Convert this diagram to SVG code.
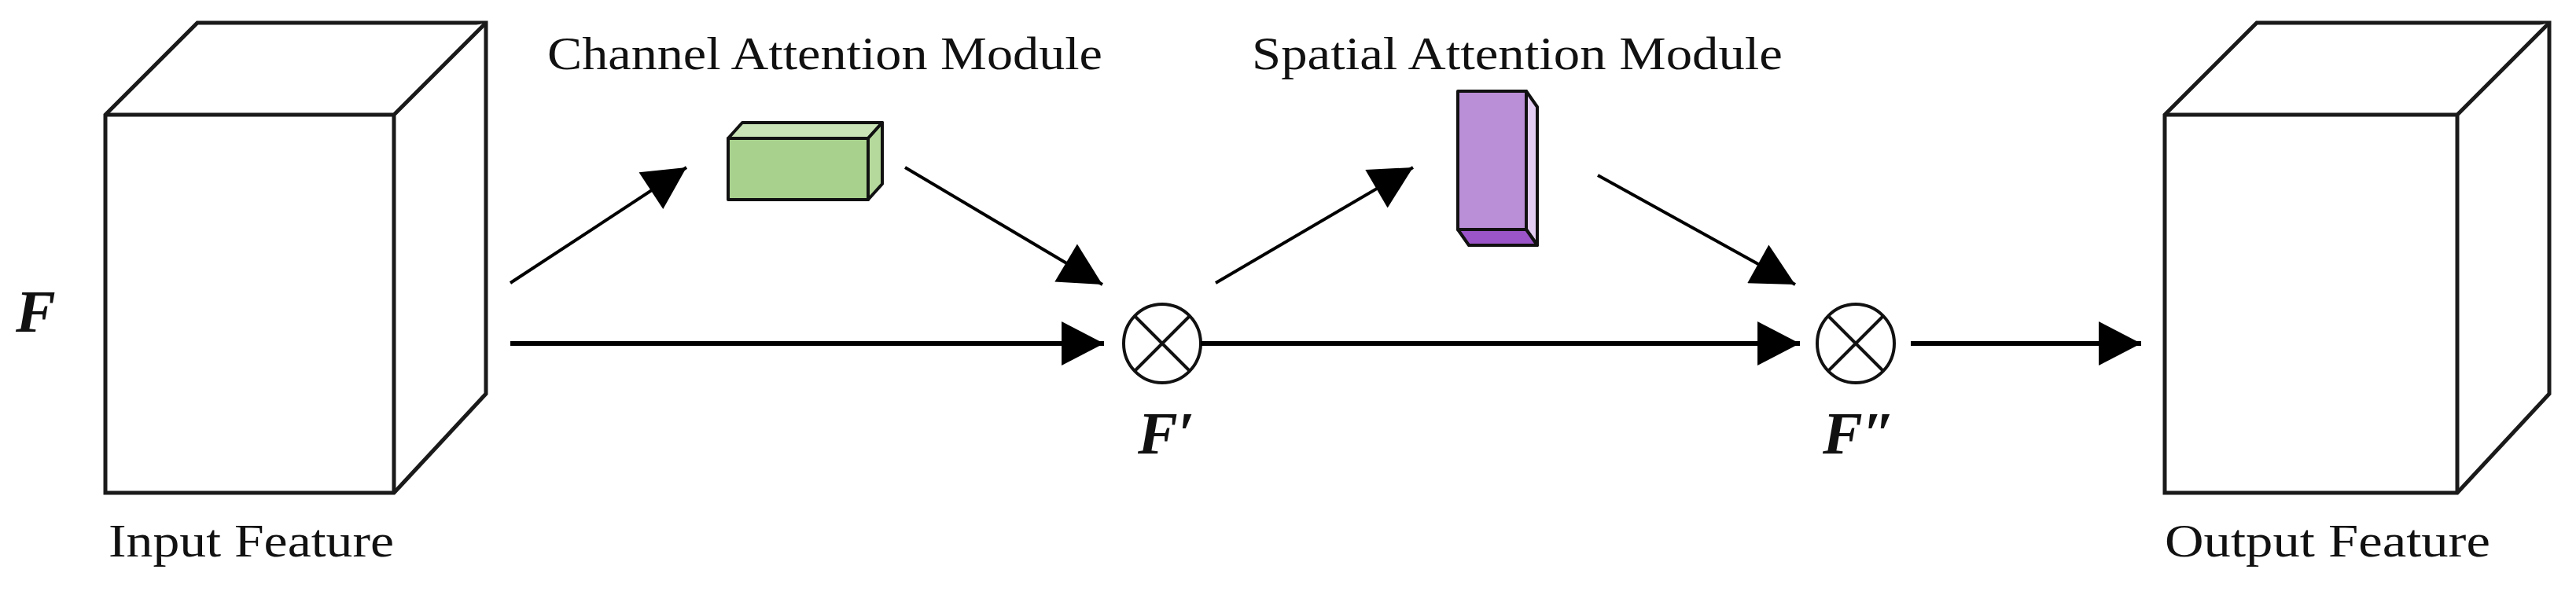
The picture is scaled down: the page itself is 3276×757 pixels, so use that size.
<svg xmlns="http://www.w3.org/2000/svg" width="3276" height="757" viewBox="0 0 3276 757">
<style>
.cube{fill:#fff;stroke:#1a1a1a;stroke-width:5;stroke-linejoin:miter}
.lbl{font-family:"Liberation Serif",serif;font-size:60px;fill:#111}
.math{font-family:"Liberation Serif",serif;font-size:76px;font-weight:bold;font-style:italic;fill:#111}
.con{stroke:#000;fill:none}
.box{stroke:#111;stroke-width:4;stroke-linejoin:round}
</style>
<defs>
<marker id="ah" markerUnits="userSpaceOnUse" markerWidth="56" markerHeight="56" viewBox="0 0 52 54" refX="52" refY="27" orient="auto">
<path d="M0,0 L52,27 L0,54 Z" fill="#000"/>
</marker>
</defs>
<rect width="3276" height="757" fill="#fff"/>
<g id="input-feature">
<path class="cube" d="M134,146 L251,29 L618,29 L618,501 L501,627 L134,627 Z"/>
<path class="cube" d="M134,146 L501,146 L618,29 M501,146 L501,627"/>
<text class="lbl" x="138" y="708" textLength="363" lengthAdjust="spacingAndGlyphs">Input Feature</text>
</g>
<text class="math" x="20" y="422">F</text>
<g id="channel-attention">
<text class="lbl" x="696" y="88" textLength="706" lengthAdjust="spacingAndGlyphs">Channel Attention Module</text>
<path class="box" d="M926,176 L944,156 L1122,156 L1104,176 Z" fill="#c9e3b6"/>
<path class="box" d="M1104,176 L1122,156 L1122,234 L1104,254 Z" fill="#b5d99c"/>
<rect class="box" x="926" y="176" width="178" height="78" fill="#a9d18e"/>
</g>
<g id="spatial-attention">
<text class="lbl" x="1592" y="88" textLength="675" lengthAdjust="spacingAndGlyphs">Spatial Attention Module</text>
<path class="box" d="M1941,116 L1955,136 L1955,312 L1941,292 Z" fill="#e3cdf2"/>
<path class="box" d="M1854,292 L1941,292 L1955,312 L1868,312 Z" fill="#9b55c9"/>
<rect class="box" x="1854" y="116" width="87" height="176" fill="#bb8ed8"/>
</g>
<g id="mult1">
<ellipse cx="1478" cy="437" rx="49" ry="50" fill="#fff" stroke="#111" stroke-width="4"/>
<path d="M1443,402 L1513,472 M1513,402 L1443,472" stroke="#111" stroke-width="4"/>
<text class="math" x="1447" y="577">F′</text>
</g>
<g id="mult2">
<ellipse cx="2360" cy="437" rx="49" ry="50" fill="#fff" stroke="#111" stroke-width="4"/>
<path d="M2325,402 L2395,472 M2395,402 L2325,472" stroke="#111" stroke-width="4"/>
<text class="math" x="2318" y="577">F″</text>
</g>
<g id="output-feature">
<path class="cube" d="M2753,146 L2870,29 L3242,29 L3242,501 L3125,627 L2753,627 Z"/>
<path class="cube" d="M2753,146 L3125,146 L3242,29 M3125,146 L3125,627"/>
<text class="lbl" x="2753" y="708" textLength="414" lengthAdjust="spacingAndGlyphs">Output Feature</text>
</g>
<g id="connectors">
<line class="con" x1="649" y1="360" x2="873" y2="213" stroke-width="4" marker-end="url(#ah)"/>
<line class="con" x1="1151" y1="213" x2="1402" y2="362" stroke-width="4" marker-end="url(#ah)"/>
<line class="con" x1="649" y1="437" x2="1404" y2="437" stroke-width="6" marker-end="url(#ah)"/>
<line class="con" x1="1546" y1="360" x2="1797" y2="213" stroke-width="4" marker-end="url(#ah)"/>
<line class="con" x1="1527" y1="437" x2="2289" y2="437" stroke-width="6" marker-end="url(#ah)"/>
<line class="con" x1="2032" y1="223" x2="2283" y2="362" stroke-width="4" marker-end="url(#ah)"/>
<line class="con" x1="2430" y1="437" x2="2723" y2="437" stroke-width="6" marker-end="url(#ah)"/>
</g>
</svg>
